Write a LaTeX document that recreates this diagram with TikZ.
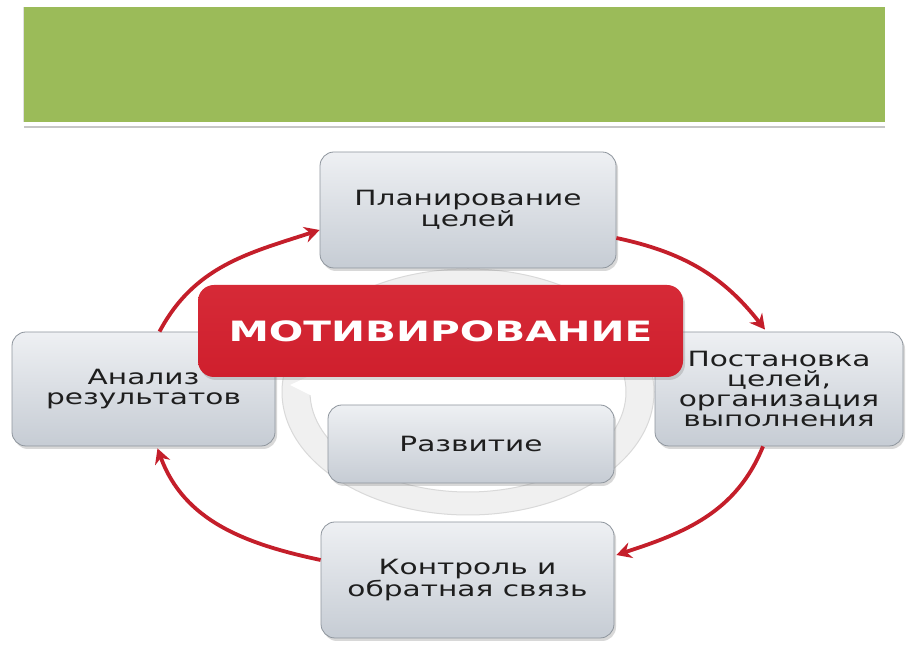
\documentclass[tikz,border=0pt]{standalone}
\usepackage{fontspec}
\usetikzlibrary{arrows.meta,shadows}
\newfontfamily\boxfont[FakeStretch=1.41]{DejaVu Sans}
\newfontfamily\motfont[FakeStretch=1.45]{DejaVu Sans Bold}
\definecolor{hdrgreen}{HTML}{9BBB59}
\definecolor{motred}{HTML}{CF1F2D}
\definecolor{motredtop}{HTML}{D62A37}
\definecolor{arrred}{HTML}{C41E2A}
\definecolor{boxtop}{HTML}{EEF0F3}
\definecolor{boxbot}{HTML}{C6CCD4}
\definecolor{boxedge}{HTML}{8E959D}
\definecolor{txt}{HTML}{1E1E1E}
\definecolor{ringgray}{HTML}{F0F0F0}
\definecolor{ringedge}{HTML}{D9D9D9}
\begin{document}
\begin{tikzpicture}[x=1pt,y=1pt,
  stagebox/.style={rounded corners=14pt, draw=boxedge, line width=0.8pt,
    top color=boxtop, bottom color=boxbot, align=center,
    font=\boxfont\fontsize{21}{20}\selectfont, text=txt, inner sep=0pt,
    drop shadow={opacity=0.3, shadow xshift=2pt, shadow yshift=-3pt}},
  cyclearrow/.style={draw=arrred, line width=3.8pt,
    -{Stealth[length=15pt,width=16pt,inset=5pt]}},
  motbox/.style={rounded corners=16pt, top color=motredtop, bottom color=motred,
    text=white, font=\motfont\fontsize{28}{28}\selectfont, inner sep=0pt,
    drop shadow={opacity=0.3, shadow xshift=2pt, shadow yshift=-3pt}},
  hdrbox/.style={fill=hdrgreen, inner sep=0pt}
]
\useasboundingbox (0,0) rectangle (915,647);
\fill[white] (0,0) rectangle (915,647);

% header bar
\fill[gray!45] (24,518.5) rectangle (885,521);
\fill[gray!25] (22.5,525) rectangle (24,640);
\node[hdrbox, minimum width=861pt, minimum height=115pt] (hdr) at (454.5,582.5) {};

% background ring
\fill[ringgray, even odd rule, draw=ringedge, line width=1pt]
  (468,255) ellipse [x radius=186pt, y radius=123pt]
  (468,255) ellipse [x radius=158pt, y radius=100pt];
\fill[white] (290,262) -- (318,248) -- (318,275) -- cycle;
\fill[white] (640,160) -- (700,190) -- (712,150) -- cycle;

% stage boxes
\node[stagebox, minimum width=296pt, minimum height=116pt] (top) at (468,437) {Планирование\\целей};
\node[stagebox, minimum width=248pt, minimum height=114pt] (right) at (779,258) {Постановка\\целей,\\организация\\выполнения};
\node[stagebox, minimum width=263pt, minimum height=114pt] (left) at (143.5,258) {Анализ\\результатов};
\node[stagebox, minimum width=293pt, minimum height=116pt] (bottom) at (467.5,67) {Контроль и\\обратная связь};
\node[stagebox, minimum width=286pt, minimum height=78pt] (center) at (471,203) {Развитие};

% central red box
\node[motbox, minimum width=485pt, minimum height=92pt] (mot) at (440.5,316) {МОТИВИРОВАНИЕ};

% cycle arrows
\draw[cyclearrow] ([xshift=16pt]left.north) to[out=62,in=198] ([yshift=-20pt]top.west);
\draw[cyclearrow] ([yshift=-28pt]top.east) to[out=-12,in=128] ([xshift=-14pt,yshift=2pt]right.north);
\draw[cyclearrow] ([xshift=-16pt]right.south) to[out=-112,in=18] ([xshift=2pt,yshift=25pt]bottom.east);
\draw[cyclearrow] ([yshift=20pt]bottom.west) to[out=168,in=-70] ([xshift=14pt,yshift=-2pt]left.south);
\end{tikzpicture}
\end{document}
